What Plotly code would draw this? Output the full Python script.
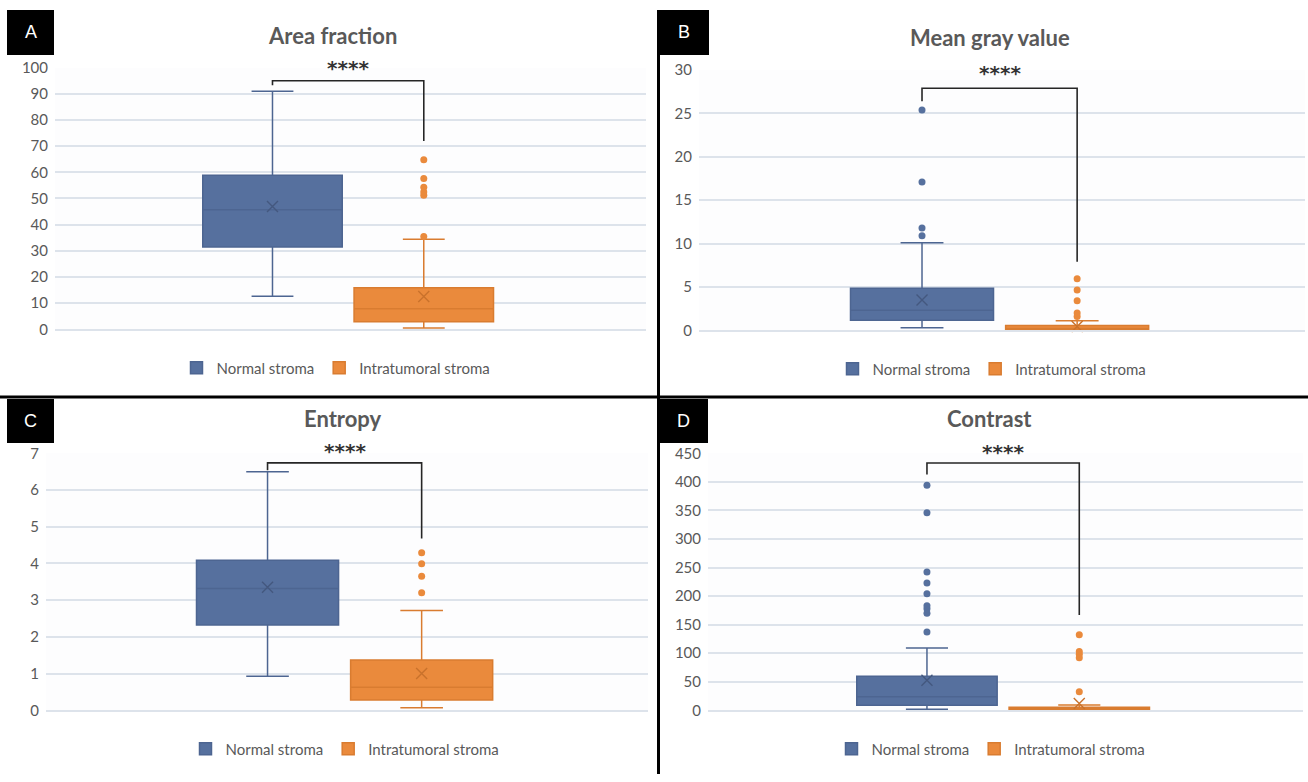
import plotly.graph_objects as go

W, H = 1308, 782

# ---------------- data ----------------
groups = ["Normal stroma", "Intratumoral stroma"]
titles = ["Area fraction", "Mean gray value", "Entropy", "Contrast"]
panel_letters = ["A", "B", "C", "D"]

# per panel: [Normal stroma, Intratumoral stroma]
q1 = [[31.5, 2.9], [1.15, 0.05], [2.32, 0.28], [8.8, 1.0]]
median = [[45.7, 7.9], [2.3, 0.2], [3.32, 0.63], [23.8, 2.5]]
q3 = [[58.9, 15.9], [4.84, 0.55], [4.09, 1.37], [59.5, 5.5]]
lower_whisker = [[12.6, 0.5], [0.3, 0.0], [0.93, 0.07], [1.8, 0.0]]
upper_whisker = [[91.0, 34.4], [10.1, 1.1], [6.5, 2.72], [109.0, 9.3]]
means = [[46.9, 12.5], [3.5, 0.45], [3.35, 1.0], [52.5, 12.0]]
outliers = [
    [[], [35.5, 51.2, 52.5, 54.3, 57.6, 64.8]],
    [[10.9, 11.8, 17.1, 25.4], [1.6, 2.0, 3.4, 4.65, 5.95]],
    [[], [3.2, 3.65, 3.99, 4.29]],
    [[137, 170, 178, 183, 204, 223, 242, 346, 394], [32.6, 92, 98, 103, 132.4]],
]
y_max = [100, 30, 7, 450]
y_dtick = [10, 5, 1, 50]

# significance brackets
sig_label = "****"
bracket_top = [95, 27.9, 6.74, 433]
bracket_left_end = [93.3, 26.4, 6.54, 413]
bracket_right_end = [72, 7.9, 4.68, 167]
star_y = [99.7, 29.7, 7.06, 452]

# ---------------- style / layout ----------------
fill_colors = ["#56709e", "#ea8a3c"]
line_colors = ["#4d6591", "#d97c30"]
mean_colors = ["#44587f", "#c9722c"]
text_color = "#595959"
grid_color = "#dde3eb"
FONT = "Lato"

box_pos = [-0.132, 0.124]
box_width = 0.236

# plot areas in target pixels: (x0, x1, ytop, ybottom)
areas = [(55, 646, 66.7, 328.3), (699, 1305, 69, 329.3),
         (46, 648, 452.3, 709.3), (708, 1303, 452.3, 709.3)]
title_pos = [(333, 35), (990, 36.5), (343, 418), (989, 418)]
legend_pos = [(336, 367), (992, 368), (345, 748), (991, 748)]
label_boxes = [(7, 54, 9, 54), (659, 709, 9, 54), (7, 54, 398, 442), (659, 708, 398, 442)]

# vertical calibration of the captured page
Y_OFF, Y_SCALE = 9.0, 0.977


def px(x):
    return x / W


def py(y):
    return 1 - ((y - Y_OFF) / Y_SCALE) / H


fig = go.Figure()
layout = dict(
    width=W, height=H, margin=dict(l=0, r=0, t=0, b=0),
    paper_bgcolor="white", plot_bgcolor="#fdfdfe",
    font=dict(family=FONT, color=text_color, size=14),
    showlegend=True, shapes=[], annotations=[],
)

for i in range(4):
    sfx = "" if i == 0 else str(i + 1)
    xa, ya = "x" + sfx, "y" + sfx
    leg = "legend" + sfx
    x0, x1, yt, yb = areas[i]
    dom_y = [py(yb), py(yt)]
    layout["xaxis" + sfx] = dict(
        domain=[px(x0), px(x1)], range=[-0.5, 0.5], showgrid=False,
        zeroline=False, showticklabels=False, ticks="", showline=True,
        linecolor=grid_color, linewidth=1.5, anchor=ya, fixedrange=True)
    layout["yaxis" + sfx] = dict(
        domain=dom_y, range=[0, y_max[i]], dtick=y_dtick[i],
        tick0=0, showgrid=True, gridcolor=grid_color, gridwidth=1.5,
        zeroline=False, showline=False, ticks="", anchor=xa,
        tickfont=dict(size=15, color=text_color, family=FONT),
        ticklabelstandoff=6, fixedrange=True)
    lx, ly = legend_pos[i]
    layout[leg] = dict(
        orientation="h", x=px(lx), y=py(ly), xanchor="center", yanchor="middle",
        font=dict(size=15, color=text_color, family=FONT),
        bgcolor="rgba(0,0,0,0)", itemwidth=30, tracegroupgap=0)

    for g in range(2):
        fig.add_trace(go.Box(
            x=[box_pos[g]], q1=[q1[i][g]], median=[median[i][g]], q3=[q3[i][g]],
            lowerfence=[lower_whisker[i][g]], upperfence=[upper_whisker[i][g]],
            name=groups[g], fillcolor=fill_colors[g],
            line=dict(color=line_colors[g], width=1.5),
            width=box_width, whiskerwidth=0.3, boxpoints=False,
            xaxis=xa, yaxis=ya, legend=leg, showlegend=True, hoverinfo="skip"))
        if outliers[i][g]:
            fig.add_trace(go.Scatter(
                x=[box_pos[g]] * len(outliers[i][g]), y=outliers[i][g],
                mode="markers", marker=dict(size=7, color=fill_colors[g]),
                xaxis=xa, yaxis=ya, showlegend=False, hoverinfo="skip",
                cliponaxis=False))
        fig.add_trace(go.Scatter(
            x=[box_pos[g]], y=[means[i][g]], mode="markers",
            marker=dict(symbol="x-thin", size=11,
                        line=dict(width=1.4, color=mean_colors[g])),
            xaxis=xa, yaxis=ya, showlegend=False, hoverinfo="skip",
            cliponaxis=False))

    # significance bracket
    bl, br = box_pos
    layout["shapes"].append(dict(
        type="path", xref=xa, yref=ya,
        path=f"M {bl},{bracket_left_end[i]} L {bl},{bracket_top[i]} "
             f"L {br},{bracket_top[i]} L {br},{bracket_right_end[i]}",
        line=dict(color="#262626", width=1.6)))
    # stars (converted through the axis scale so they may sit above the range)
    star_paper = dom_y[0] + star_y[i] / y_max[i] * (dom_y[1] - dom_y[0])
    layout["annotations"].append(dict(
        x=(bl + br) / 2, y=star_paper, xref=xa, yref="paper", text=f"<b>{sig_label}</b>",
        showarrow=False, yanchor="middle", xanchor="center",
        font=dict(size=20, color="#333333", family="DejaVu Sans")))

    # title
    tx, ty = title_pos[i]
    layout["annotations"].append(dict(
        x=px(tx), y=py(ty), xref="paper", yref="paper", text=f"<b>{titles[i]}</b>",
        showarrow=False, xanchor="center", yanchor="middle",
        font=dict(size=22, color=text_color, family=FONT)))

    # panel letter box
    bx0, bx1, by0, by1 = label_boxes[i]
    layout["shapes"].append(dict(
        type="rect", xref="paper", yref="paper", x0=px(bx0), x1=px(bx1),
        y0=py(by1), y1=py(by0), fillcolor="black", line=dict(width=0)))
    layout["annotations"].append(dict(
        x=px((bx0 + bx1) / 2), y=py((by0 + by1) / 2), xref="paper", yref="paper",
        text=panel_letters[i], showarrow=False, xanchor="center", yanchor="middle",
        font=dict(size=18, color="white", family="Liberation Sans")))

# panel dividers
layout["shapes"].append(dict(type="line", xref="paper", yref="paper",
                             x0=px(658.5), x1=px(658.5), y0=0, y1=1,
                             line=dict(color="black", width=3)))
layout["shapes"].append(dict(type="line", xref="paper", yref="paper",
                             x0=0, x1=1, y0=py(396), y1=py(396),
                             line=dict(color="black", width=3)))

fig.update_layout(**layout)
fig.write_html(
    "out.html",
    config={"displayModeBar": False},
    post_script="document.body.style.margin='0px';"
                "document.documentElement.style.overflow='hidden';"
                "document.body.style.overflow='hidden';")
